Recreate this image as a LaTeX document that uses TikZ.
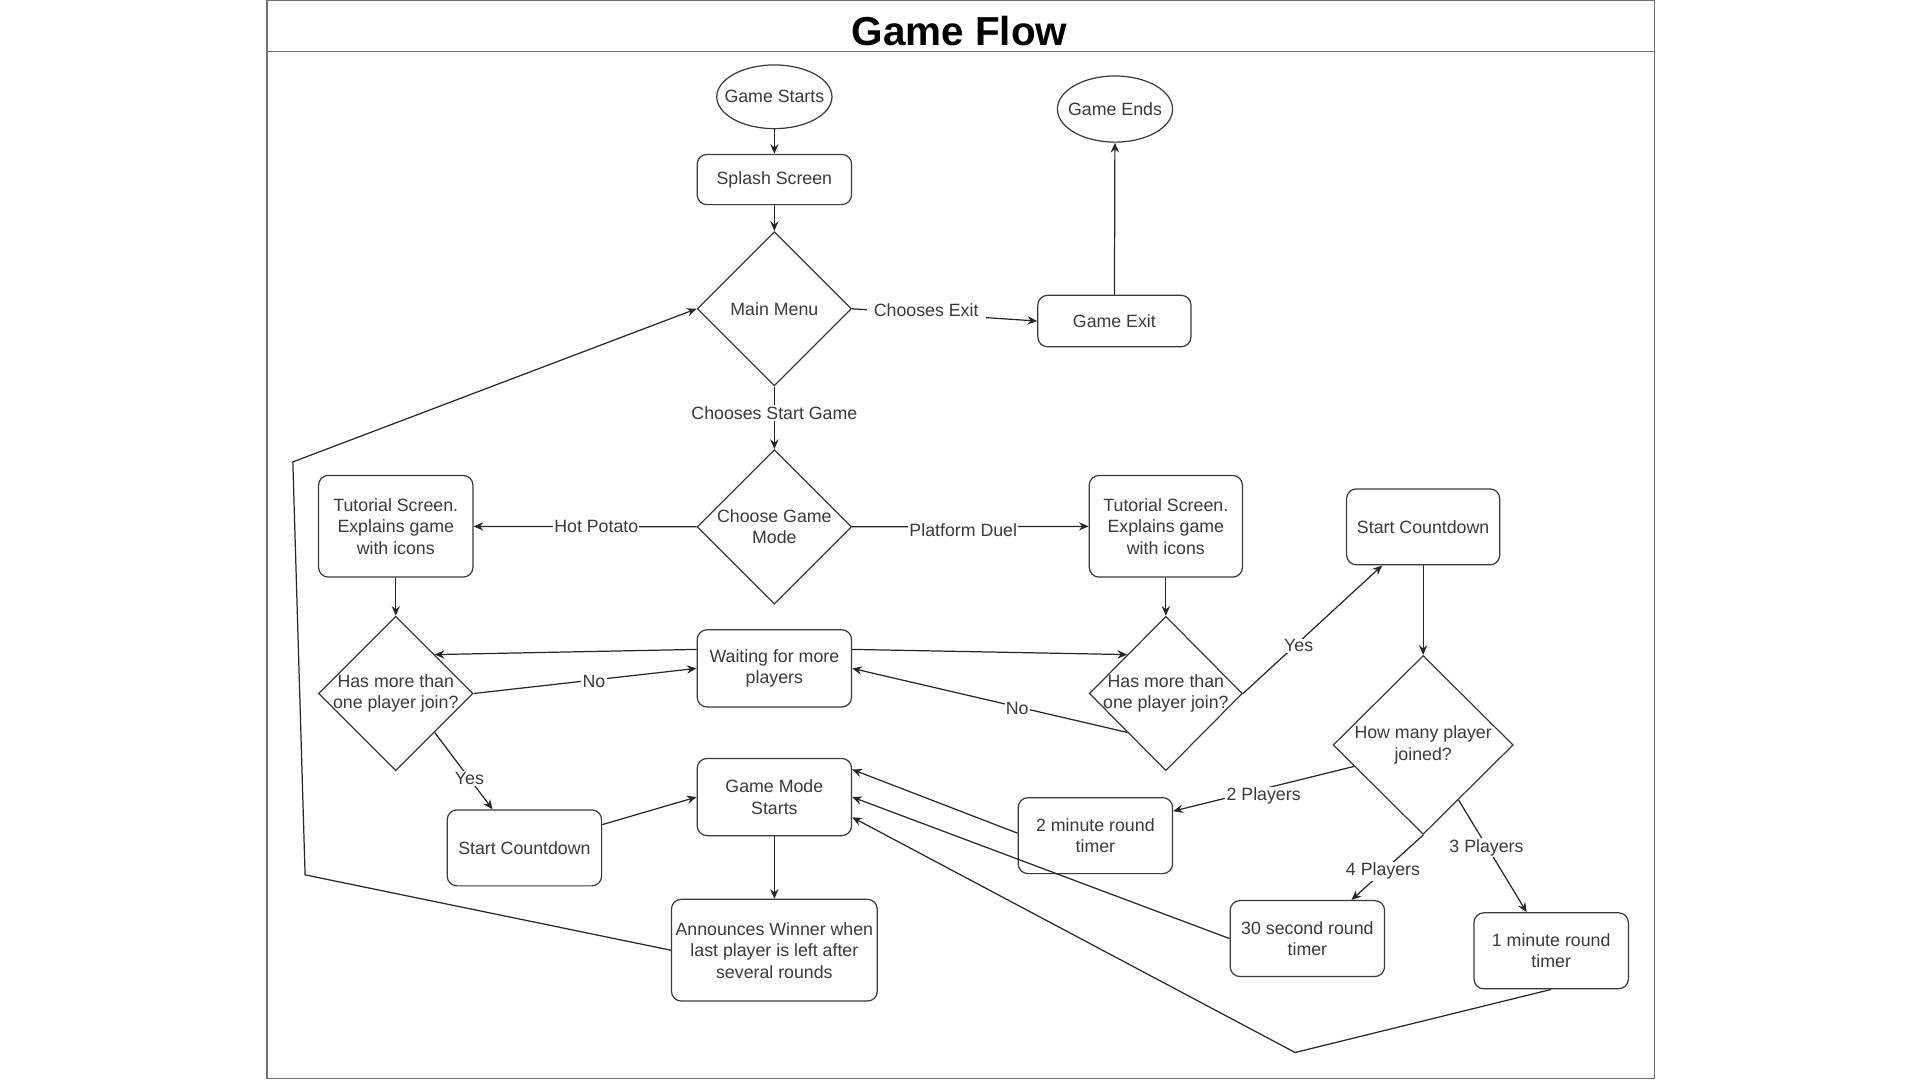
\documentclass[tikz,border=0pt]{standalone}
\usepackage{fontspec}
\setmainfont{Liberation Sans}
\usetikzlibrary{shapes.geometric,arrows.meta,calc}
\definecolor{txt}{HTML}{3A3A3A}
\definecolor{shp}{HTML}{3A3A3A}
\definecolor{ln}{HTML}{262626}
\definecolor{frm}{HTML}{707070}
\newcommand\fsz{\fontsize{14.5}{17.5}\selectfont}
\begin{document}
\begin{tikzpicture}[x=1pt,y=-1pt,line width=1pt,
  >={Stealth[length=8pt,width=6.8pt,inset=2.8pt]},
  box/.style={draw=shp,rounded corners=8pt,minimum width=126pt,minimum height=62pt,inner sep=0pt,align=center,text=txt,font=\fsz},
  dia/.style={draw=shp,diamond,minimum width=126pt,minimum height=126pt,inner sep=0pt},
  ell/.style={draw=shp,ellipse,minimum width=94pt,minimum height=52pt,inner sep=0pt},
  txtn/.style={align=center,text=txt,font=\fsz,inner sep=0pt},
  lbl/.style={fill=white,inner sep=1pt,text=txt,font=\fsz},
  conn/.style={draw=ln,->}]
\useasboundingbox (0,0) rectangle (1567,881.4);
% frame
\draw[frm] (218,0.5) rectangle (1350,880);
\draw[frm] (218,42) -- (1350,42);
\node[font=\fontsize{33}{36}\selectfont\bfseries,inner sep=0pt] (title) at (783,25) {Game Flow};
% ellipses
\node[ell] (gs) at (632,79) {};
\node[txtn] (gsT) at (gs.center) {Game Starts};
\node[ell,minimum height=54pt] (ge) at (910,89) {};
\node[txtn] (geT) at (ge.center) {Game Ends};
% boxes
\node[box,minimum height=41pt] (splash) at (632,146.5) {Splash Screen};
\node[box,minimum width=125pt,minimum height=42pt] (exit) at (909.5,262) {Game Exit};
\node[box,minimum height=83pt] (tl) at (323,429.5) {Tutorial Screen.\\Explains game\\with icons};
\node[box,minimum width=125pt,minimum height=83pt] (tr) at (951.5,429.5) {Tutorial Screen.\\Explains game\\with icons};
\node[box,minimum width=125pt] (scr) at (1161.5,430) {Start Countdown};
\node[box,minimum height=63pt] (wait) at (632,545.5) {Waiting for more\\players};
\node[box,minimum height=63pt] (gms) at (632,650.5) {Game Mode\\Starts};
\node[box] (scl) at (428,692) {Start Countdown};
\node[box,minimum width=168pt,minimum height=83pt] (ann) at (632,775.5) {Announces Winner when\\last player is left after\\several rounds};
\node[box] (t2) at (894,682) {2 minute round\\timer};
\node[box] (t30) at (1067,766) {30 second round\\timer};
\node[box] (t1) at (1266,776) {1 minute round\\timer};
% diamonds
\node[dia] (mm) at (632,252) {};
\node[txtn] (mmT) at (mm.center) {Main Menu};
\node[dia] (cgm) at (632,430) {};
\node[txtn] (cgmT) at (cgm.center) {Choose Game\\Mode};
\node[dia] (ld) at (323,566) {};
\node[txtn] (ldT) at (ld.center) {Has more than\\one player join?};
\node[dia,minimum width=125pt] (rd) at (951.5,566) {};
\node[txtn] (rdT) at (rd.center) {Has more than\\one player join?};
\node[dia,minimum width=147pt,minimum height=146pt] (hm) at (1161.5,608) {};
\node[txtn] (hmT) at (hm.center) {How many player\\joined?};
% bend points
\coordinate (c1) at (249,714);
\coordinate (c2) at (239,377);
\coordinate (c3) at (1057,859);
% connectors
\draw[conn] (mm.east) -- node[lbl,pos=0.4,yshift=2.5pt,inner xsep=6pt,inner ysep=5pt] {Chooses Exit} (exit.west);
\draw[conn] (gs) -- (splash);
\draw[conn] (splash) -- (mm);
\draw[conn] (exit) -- (ge);
\draw[conn] (mm) -- node[lbl,pos=0.42] {Chooses Start Game} (cgm);
\draw[conn] (cgm) -- node[lbl,pos=0.45] {Hot Potato} (tl);
\draw[conn] (cgm) -- node[lbl,pos=0.47,yshift=-3pt] {Platform Duel} (tr);
\draw[conn] (tl) -- (ld);
\draw[conn] (tr) -- (rd);
\draw[conn] ($(wait.west)+(0,-15.5)$) -- (ld.north east);
\draw[conn] (ld.east) -- node[lbl,pos=0.54,yshift=-1.5pt] {No} (wait.west);
\draw[conn] ($(wait.east)+(0,-15.5)$) -- (rd.north west);
\draw[conn] (rd.south west) -- node[lbl,pos=0.4,yshift=-1pt] {No} (wait.east);
\draw[conn] (rd.east) -- node[lbl,pos=0.4,yshift=-3pt] {Yes} ($(scr.south)+(-33.5,0)$);
\draw[conn] (scr) -- (hm);
\draw[conn] ($(hm.west)!0.238!(hm.south)$) -- node[lbl,pos=0.5,yshift=-6pt] {2 Players} ($(t2.east)+(0,-20)$);
\draw[conn] (hm.south) -- node[lbl,pos=0.56] {4 Players} ($(t30.north)+(36,0)$);
\draw[conn] ($(hm.south)!0.39!(hm.east)$) -- node[lbl,pos=0.41,yshift=-1.5pt] {3 Players} ($(t1.north)+(-20,0)$);
\draw[conn] (ld.south east) -- node[lbl,pos=0.6] {Yes} ($(scl.north)+(-26,0)$);
\draw[conn] ($(scl.east)+(0,-19)$) -- (gms.west);
\draw[conn] (gms) -- (ann);
\draw[conn] (ann.west) -- (c1) -- (c2) -- (mm.west);
\draw[conn] ($(t2.west)+(0,-2)$) -- ($(gms.east)+(0,-22.5)$);
\draw[conn] (t30.west) -- (gms.east);
\draw[conn] (t1.south) -- (c3) -- ($(gms.east)+(0,16.5)$);
\end{tikzpicture}
\end{document}
